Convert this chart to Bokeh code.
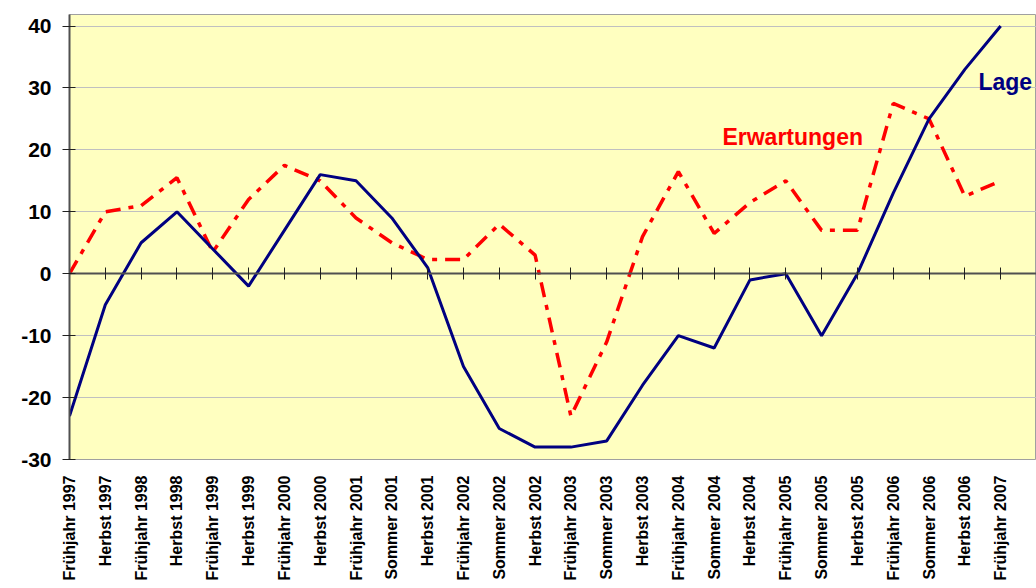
import math
from bokeh.plotting import figure
from bokeh.models import Range1d, FixedTicker, LinearAxis, Label
from bokeh.embed import file_html
from bokeh.resources import INLINE

categories = ["Frühjahr 1997", "Herbst 1997", "Frühjahr 1998", "Herbst 1998",
              "Frühjahr 1999", "Herbst 1999", "Frühjahr 2000", "Herbst 2000",
              "Frühjahr 2001", "Sommer 2001", "Herbst 2001", "Frühjahr 2002",
              "Sommer 2002", "Herbst 2002", "Frühjahr 2003", "Sommer 2003",
              "Herbst 2003", "Frühjahr 2004", "Sommer 2004", "Herbst 2004",
              "Frühjahr 2005", "Sommer 2005", "Herbst 2005", "Frühjahr 2006",
              "Sommer 2006", "Herbst 2006", "Frühjahr 2007"]
lage = [-23, -5, 5, 10, 4, -2, 7, 16, 15, 9, 1, -15, -25, -28, -28, -27,
        -18, -10, -12, -1, 0, -10, 0, 13, 25, 33, 40]
erwartungen = [0, 10, 11, 15.5, 3.5, 12, 17.5, 15, 9, 5, 2.3, 2.3, 8, 3,
               -23, -11, 6, 16.5, 6.5, 11.5, 15, 7, 7, 27.5, 25, 12.5, 15]
y_ticks = [-30, -20, -10, 0, 10, 20, 30, 40]

idx = list(range(len(categories)))

FONT = "Liberation Sans"

p = figure(frame_width=967, frame_height=445,
           x_range=Range1d(0, 27.0), y_range=Range1d(-30, 41.86),
           output_backend="svg", toolbar_location=None,
           min_border_left=69, min_border_top=14, min_border_right=0,
           min_border_bottom=0)

p.background_fill_color = "#FFFFC0"
p.border_fill_color = "white"
p.outline_line_color = "#A0A0A0"
p.outline_line_width = 1

# x axis (labels at bottom)
xa = p.xaxis[0]
xa.ticker = FixedTicker(ticks=idx)
xa.major_label_overrides = {i: c for i, c in zip(idx, categories)}
xa.major_label_orientation = math.pi / 2
xa.axis_line_color = None
xa.major_tick_line_color = None
xa.minor_tick_line_color = None
xa.major_tick_out = 0
xa.major_tick_in = 0
xa.major_label_standoff = 16
xa.major_label_text_font = FONT
xa.major_label_text_font_style = "bold"
xa.major_label_text_font_size = "16px"
xa.major_label_text_color = "black"

# zero axis line with cross ticks
zero_axis = LinearAxis(fixed_location=0, ticker=FixedTicker(ticks=idx),
                       major_label_text_font_size="0px",
                       major_label_text_alpha=0,
                       axis_line_color="#505050", axis_line_width=2,
                       major_tick_line_color="#202020", major_tick_line_width=1,
                       major_tick_in=6, major_tick_out=6,
                       minor_tick_line_color=None)
p.add_layout(zero_axis, "below")

# y axis
ya = p.yaxis[0]
ya.ticker = FixedTicker(ticks=y_ticks)
ya.major_label_overrides = {t: str(t) for t in y_ticks}
ya.axis_line_color = "#505050"
ya.axis_line_width = 2
ya.major_tick_line_color = "#202020"
ya.major_tick_out = 7
ya.major_tick_in = 6
ya.minor_tick_line_color = None
ya.major_label_standoff = 11
ya.major_label_text_font = FONT
ya.major_label_text_font_style = "bold"
ya.major_label_text_font_size = "21px"
ya.major_label_text_color = "black"

p.xgrid.visible = False
p.ygrid.ticker = FixedTicker(ticks=y_ticks)
p.ygrid.grid_line_color = "#C0C0C0"
p.ygrid.grid_line_width = 1

p.line(idx, erwartungen, line_color="#FF0000", line_width=3.5,
       line_dash="15 8 5 8")
p.line(idx, lage, line_color="#000080", line_width=3)

p.add_layout(Label(x=18.23, y=22.0, text="Erwartungen", text_color="#FF0000",
                   text_font=FONT, text_font_style="bold",
                   text_font_size="23px", text_baseline="alphabetic"))
p.add_layout(Label(x=25.38, y=30.9, text="Lage", text_color="#000080",
                   text_font=FONT, text_font_style="bold",
                   text_font_size="23px", text_baseline="alphabetic"))

open("out.html", "w").write(file_html(p, INLINE))
